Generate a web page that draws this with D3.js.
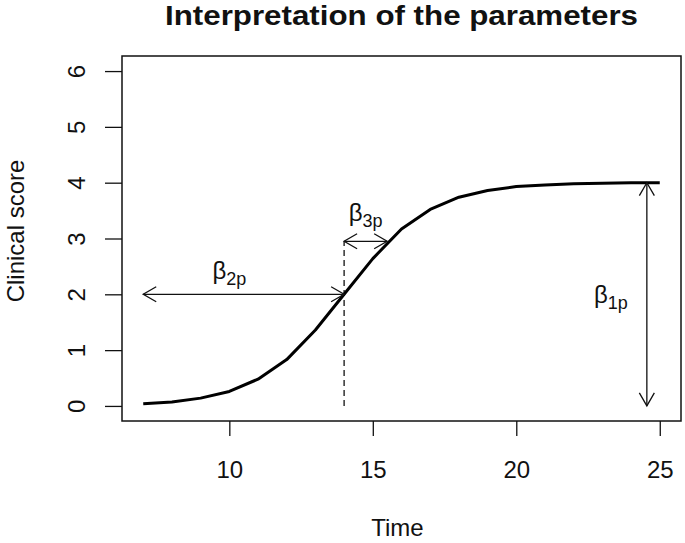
<!DOCTYPE html>
<html>
<head>
<meta charset="utf-8">
<script src="https://cdn.jsdelivr.net/npm/d3@7"></script>
<style>
  body { margin: 0; background: #fff; }
  #graf { width: 685px; height: 543px; }
  text { font-family: "Liberation Sans", Arial, sans-serif; fill: #111; }
</style>
</head>
<body>
<div id="graf"></div>
<script>
// curve values
const tiempo = [7, 8, 9, 10, 11, 12, 13, 14, 15, 16, 17, 18, 19, 20, 21, 22, 23, 24, 25];
const score = [0.04, 0.07, 0.14, 0.26, 0.48, 0.83, 1.36, 2.0, 2.64, 3.17, 3.52, 3.74, 3.86, 3.93, 3.96, 3.98, 3.99, 4.0, 4.0];

const xTicks = [10, 15, 20, 25];
const yTicks = [0, 1, 2, 3, 4, 5, 6];

// double arrows: [x0, y0, x1, y1]
const flechas = [
  [7, 2, 14, 2],
  [14, 2.95, 15.5, 2.95],
  [24.55, 4, 24.55, 0],
];
const guia = [14, 0, 14, 2.95];

// parameter labels
const etiquetas = [
  { x: 10, y: 2.42, sub: "2p" },
  { x: 14.75, y: 3.45, sub: "3p" },
  { x: 23.3, y: 1.98, sub: "1p" },
];

const ancho_total = 685;
const alto_total = 543;
const margins = { top: 56, left: 122, right: 4, bottom: 122 };
const ancho = ancho_total - margins.left - margins.right;
const alto = alto_total - margins.top - margins.bottom;

const svg = d3
  .select("#graf")
  .append("svg")
  .attr("width", ancho_total)
  .attr("height", alto_total)
  .append("g")
  .attr("transform", `translate(${margins.left}, ${margins.top})`);

const x = d3.scaleLinear().domain([6.26, 25.74]).range([0, ancho]);
const y = d3.scaleLinear().domain([-0.27, 6.27]).range([alto, 0]);

// x axis
const ejeX = svg
  .append("g")
  .attr("transform", `translate(0, ${alto})`)
  .call(d3.axisBottom(x).tickValues(xTicks).tickSize(15).tickFormat(d3.format("d")));
ejeX.select(".domain").remove();
ejeX.selectAll("line").attr("stroke", "#111").attr("stroke-width", 1.3);
ejeX
  .selectAll("text")
  .attr("y", 57)
  .attr("dy", null)
  .style("font-size", "24px")
  .attr("fill", "#111");

// y axis, labels turned like R does
const ejeY = svg
  .append("g")
  .call(d3.axisLeft(y).tickValues(yTicks).tickSize(17).tickFormat(d3.format("d")));
ejeY.select(".domain").remove();
ejeY.selectAll("line").attr("stroke", "#111").attr("stroke-width", 1.3);
ejeY
  .selectAll("text")
  .attr("x", 0)
  .attr("y", -37)
  .attr("dy", null)
  .attr("text-anchor", "middle")
  .attr("transform", "rotate(-90)")
  .style("font-size", "24px")
  .attr("fill", "#111");

// box
svg
  .append("rect")
  .attr("x", 0)
  .attr("y", 0)
  .attr("width", ancho)
  .attr("height", alto)
  .attr("fill", "none")
  .attr("stroke", "#111")
  .attr("stroke-width", 1.5);

// titles
svg
  .append("text")
  .attr("x", ancho / 2)
  .attr("y", 25 - margins.top)
  .attr("text-anchor", "middle")
  .attr("textLength", 473)
  .attr("lengthAdjust", "spacingAndGlyphs")
  .style("font-size", "27px")
  .style("font-weight", "bold")
  .text("Interpretation of the parameters");

svg
  .append("text")
  .attr("x", ancho / 2 - 4)
  .attr("y", 536 - margins.top)
  .attr("text-anchor", "middle")
  .style("font-size", "24px")
  .text("Time");

svg
  .append("text")
  .attr("transform", `translate(${24 - margins.left}, ${231 - margins.top}) rotate(-90)`)
  .attr("text-anchor", "middle")
  .style("font-size", "24px")
  .text("Clinical score");

// dashed guide
svg
  .append("line")
  .attr("x1", x(guia[0]))
  .attr("y1", y(guia[1]))
  .attr("x2", x(guia[2]))
  .attr("y2", y(guia[3]))
  .attr("stroke", "#111")
  .attr("stroke-width", 1.3)
  .attr("stroke-dasharray", "6,4");

// curve
const linea = d3
  .line()
  .x((d, i) => x(tiempo[i]))
  .y((d) => y(d));

svg
  .append("path")
  .datum(score)
  .attr("d", linea)
  .attr("fill", "none")
  .attr("stroke", "#000")
  .attr("stroke-width", 3)
  .attr("stroke-linejoin", "round");

// arrows with open heads at both ends (length 15px, 30 deg)
const largo = 15;
const punta = (px, py, ang) => {
  const a1 = ang + Math.PI / 6;
  const a2 = ang - Math.PI / 6;
  return `M${px + largo * Math.cos(a1)},${py + largo * Math.sin(a1)}L${px},${py}L${px + largo * Math.cos(a2)},${py + largo * Math.sin(a2)}`;
};

flechas.forEach((f) => {
  const x0 = x(f[0]), y0 = y(f[1]), x1 = x(f[2]), y1 = y(f[3]);
  const ang = Math.atan2(y1 - y0, x1 - x0);
  const g = svg.append("g").attr("stroke", "#111").attr("stroke-width", 1.3).attr("fill", "none");
  g.append("line").attr("x1", x0).attr("y1", y0).attr("x2", x1).attr("y2", y1);
  g.append("path").attr("d", punta(x0, y0, ang));
  g.append("path").attr("d", punta(x1, y1, ang + Math.PI));
});

// beta labels
etiquetas.forEach((e) => {
  const t = svg
    .append("text")
    .attr("x", x(e.x))
    .attr("y", y(e.y) + 8)
    .attr("text-anchor", "middle")
    .style("font-size", "24px");
  t.append("tspan").text("β");
  t.append("tspan").attr("dy", 6).style("font-size", "18px").text(e.sub);
});
</script>
</body>
</html>
